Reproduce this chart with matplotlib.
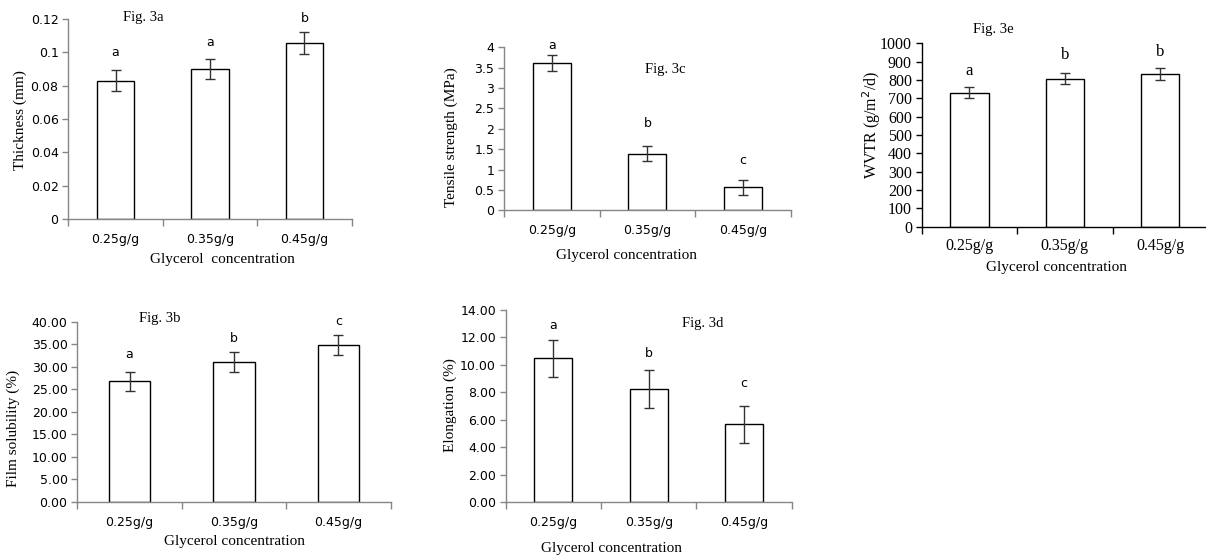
import matplotlib
matplotlib.use("Agg")
import matplotlib.pyplot as plt
import numpy as np

W, H = 1206, 556

categories = ["0.25g/g", "0.35g/g", "0.45g/g"]

thickness = [0.083, 0.090, 0.1055]
thickness_err = [0.0063, 0.0062, 0.0066]
thickness_letters = ["a", "a", "b"]
thickness_letter_y = [0.0998, 0.1058, 0.1200]

tensile = [3.62, 1.39, 0.565]
tensile_err = [0.19, 0.19, 0.19]
tensile_letters = ["a", "b", "c"]
tensile_letter_y = [4.04, 2.12, 1.21]

wvtr = [731, 807, 833]
wvtr_err = [30, 30, 31]
wvtr_letters = ["a", "b", "b"]
wvtr_letter_y = [849, 937, 955]

solubility = [26.77, 31.06, 34.83]
solubility_err = [2.1, 2.3, 2.3]
solubility_letters = ["a", "b", "c"]
solubility_letter_y = [32.8, 36.3, 40.0]

elongation = [10.48, 8.24, 5.67]
elongation_err = [1.33, 1.37, 1.35]
elongation_letters = ["a", "b", "c"]
elongation_letter_y = [12.9, 10.8, 8.66]

SANS = "DejaVu Sans"
SERIF = "Liberation Serif"

fig = plt.figure(figsize=(W / 100, H / 100), dpi=100)


def px_axes(x0, y0, x1, y1):
    return fig.add_axes([x0 / W, 1 - y1 / H, (x1 - x0) / W, (y1 - y0) / H])


def ftext(x, y, s, **kw):
    fig.text(x / W, 1 - y / H, s, **kw)


def panel(box, vals, errs, letters, letter_y, ymax, yticks, yfmt, tickfont,
          ticksize, spine_color, letter_font, letter_size, xpad=10):
    ax = px_axes(*box)
    x = np.arange(1, len(categories) + 1)
    ax.bar(x, vals, width=0.4, color="white", edgecolor="black", linewidth=1.0, zorder=2)
    ax.errorbar(x, vals, yerr=errs, fmt="none", ecolor="#333333", elinewidth=1.0,
                capsize=3.3, capthick=1.0, zorder=3)
    for xi, lt, ly in zip(x, letters, letter_y):
        ax.text(xi, ly, lt, ha="center", va="center", fontsize=letter_size,
                family=letter_font, color="black")
    ax.set_xlim(0.5, 3.5)
    ax.set_ylim(0, ymax)
    ax.set_yticks(yticks)
    ax.set_yticklabels([yfmt(v) for v in yticks], family=tickfont, fontsize=ticksize)
    ax.set_xticks(x)
    ax.set_xticklabels(categories, family=tickfont, fontsize=ticksize)
    ax.set_xticks([0.5, 1.5, 2.5, 3.5], minor=True)
    ax.tick_params(axis="x", which="major", length=0, pad=xpad)
    ax.tick_params(axis="x", which="minor", length=5, width=1, color=spine_color, direction="out")
    ax.tick_params(axis="y", length=4, width=1, color=spine_color, direction="out", pad=3)
    for s in ["top", "right"]:
        ax.spines[s].set_visible(False)
    for s in ["left", "bottom"]:
        ax.spines[s].set_color(spine_color)
        ax.spines[s].set_linewidth(1.0)
    ax.patch.set_alpha(0)
    return ax


gray = "#868686"

# Fig 3a
panel((68.3, 19, 351.7, 219), thickness, thickness_err, thickness_letters, thickness_letter_y,
      0.12, [0, 0.02, 0.04, 0.06, 0.08, 0.1, 0.12], lambda v: f"{v:g}", SANS, 9, gray, SANS, 9)
ftext(143, 18, "Fig. 3a", family=SERIF, fontsize=10.5, ha="center", va="center")
ftext(20, 120, "Thickness (mm)", family=SERIF, fontsize=11, ha="center", va="center", rotation=90)
ftext(222, 259, "Glycerol  concentration", family=SERIF, fontsize=11, ha="center", va="center")

# Fig 3c
panel((504, 47.3, 790.7, 210.3), tensile, tensile_err, tensile_letters, tensile_letter_y,
      4, [0, 0.5, 1, 1.5, 2, 2.5, 3, 3.5, 4], lambda v: f"{v:g}", SANS, 9, gray, SANS, 9)
ftext(665, 70, "Fig. 3c", family=SERIF, fontsize=10.5, ha="center", va="center")
ftext(451.7, 137, "Tensile strength (MPa)", family=SERIF, fontsize=11, ha="center", va="center", rotation=90)
ftext(626.7, 256, "Glycerol concentration", family=SERIF, fontsize=11, ha="center", va="center")

# Fig 3e
panel((921.7, 43.3, 1208, 226.7), wvtr, wvtr_err, wvtr_letters, wvtr_letter_y,
      1000, list(range(0, 1001, 100)), lambda v: f"{v:d}", SERIF, 11.5, "black", SERIF, 12, xpad=8)
ftext(993, 29, "Fig. 3e", family=SERIF, fontsize=10.5, ha="center", va="center")
ftext(871.7, 125, "WVTR (g/m$^2$/d)", family=SERIF, fontsize=11.5, ha="center", va="center", rotation=90)
ftext(1056.7, 267.7, "Glycerol concentration", family=SERIF, fontsize=11, ha="center", va="center")

# Fig 3b
panel((77.3, 321.7, 390.7, 502), solubility, solubility_err, solubility_letters, solubility_letter_y,
      40, [0, 5, 10, 15, 20, 25, 30, 35, 40], lambda v: f"{v:.2f}", SANS, 9, gray, SANS, 9)
ftext(160, 318.3, "Fig. 3b", family=SERIF, fontsize=10.5, ha="center", va="center")
ftext(13.3, 428, "Film solubility (%)", family=SERIF, fontsize=11, ha="center", va="center", rotation=90)
ftext(235, 541.7, "Glycerol concentration", family=SERIF, fontsize=11, ha="center", va="center")

# Fig 3d
panel((505.7, 310, 791.7, 502), elongation, elongation_err, elongation_letters, elongation_letter_y,
      14, [0, 2, 4, 6, 8, 10, 12, 14], lambda v: f"{v:.2f}", SANS, 9, gray, SANS, 9)
ftext(703, 324, "Fig. 3d", family=SERIF, fontsize=10.5, ha="center", va="center")
ftext(450, 405, "Elongation (%)", family=SERIF, fontsize=11, ha="center", va="center", rotation=90)
ftext(611.7, 548.3, "Glycerol concentration", family=SERIF, fontsize=11, ha="center", va="center")

fig.savefig("out.png", dpi=100)
